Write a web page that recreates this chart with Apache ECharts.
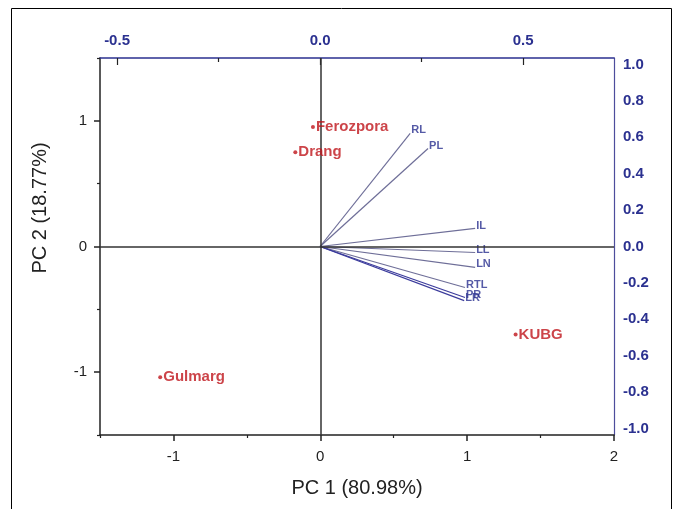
<!DOCTYPE html>
<html>
<head>
<meta charset="utf-8">
<script src="https://cdn.jsdelivr.net/npm/echarts@6/dist/echarts.min.js"></script>
<style>
  html, body { margin: 0; padding: 0; background: #fff; }
  #chart { width: 679px; height: 509px; }
</style>
</head>
<body>
<div id="chart"></div>
<script>
// scores (bottom / left axes)
var siteNames = ["Ferozpora", "Drang", "Gulmarg", "KUBG"];
var pc1Scores = [-0.05, -0.17, -1.09, 1.33];
var pc2Scores = [0.95, 0.75, -1.04, -0.70];

// loadings (top / right axes)
var traitNames = ["RL", "PL", "IL", "LL", "LN", "RTL", "PR", "LR"];
var loadX = [0.222, 0.266, 0.382, 0.382, 0.382, 0.357, 0.357, 0.355];
var loadY = [0.621, 0.538, 0.099, -0.033, -0.115, -0.225, -0.280, -0.297];

// tick labels
var pc1Ticks = [-1, 0, 1, 2];
var pc2Ticks = [-1, 0, 1];
var topTicks = [-0.5, 0, 0.5];
var rightTicks = [-1, -0.8, -0.6, -0.4, -0.2, 0, 0.2, 0.4, 0.6, 0.8, 1];

var navy = "#2b3190";
var red = "#bf151b";
var ink = "#222";
var font = "Liberation Sans";

var chart = echarts.init(document.getElementById("chart"));

function fix1(v) {
    return v.toFixed(1);
}

var vectorSeries = traitNames.map(function(name, i) {
    return {
        type: "line",
        xAxisIndex: 1,
        yAxisIndex: 1,
        data: [[0, 0], [loadX[i], loadY[i]]],
        symbol: "none",
        silent: true,
        z: 3,
        lineStyle: { color: i >= 6 ? "#3b3b9c" : "#6e6e98", width: 1.2 }
    };
});

var option = {
    animation: false,
    backgroundColor: "#fff",
    grid: { left: 100, right: 65, top: 58, bottom: 74 },
    xAxis: [
        {
            // PC1 scores
            type: "value", position: "bottom", min: -1.5, max: 2,
            name: "PC 1 (80.98%)", nameLocation: "middle", nameGap: 43,
            nameTextStyle: { fontFamily: font, fontSize: 20, color: ink },
            axisLine: { show: true, onZero: false, lineStyle: { color: ink, width: 1.5 } },
            axisTick: { show: true, customValues: pc1Ticks, length: 6, lineStyle: { color: ink, width: 1.5 } },
            axisLabel: { customValues: pc1Ticks, margin: 14, fontFamily: font, fontSize: 15, color: ink },
            splitLine: { show: false }
        },
        {
            // loadings, top
            type: "value", position: "top", min: -0.542, max: 0.724,
            axisLine: { show: true, onZero: false, lineStyle: { color: navy, width: 1.5 } },
            axisTick: { show: true, inside: true, customValues: topTicks, length: 7, lineStyle: { color: ink, width: 1.2 } },
            axisLabel: { customValues: topTicks, formatter: fix1, margin: 10, fontFamily: font, fontSize: 15, fontWeight: "bold", color: navy },
            splitLine: { show: false }
        },
        {
            // minor ticks bottom
            type: "value", position: "bottom", min: -1.5, max: 2,
            axisLine: { show: false, onZero: false },
            axisTick: { show: true, customValues: [-1.5, -0.5, 0.5, 1.5], length: 3, lineStyle: { color: ink, width: 1.2 } },
            axisLabel: { show: false },
            splitLine: { show: false }
        },
        {
            // minor ticks top
            type: "value", position: "top", min: -0.542, max: 0.724,
            axisLine: { show: false, onZero: false },
            axisTick: { show: true, inside: true, customValues: [-0.25, 0.25], length: 4, lineStyle: { color: ink, width: 1.2 } },
            axisLabel: { show: false },
            splitLine: { show: false }
        }
    ],
    yAxis: [
        {
            // PC2 scores
            type: "value", position: "left", min: -1.5, max: 1.5,
            axisLine: { show: true, onZero: false, lineStyle: { color: ink, width: 1.5 } },
            axisTick: { show: true, customValues: pc2Ticks, length: 6, lineStyle: { color: ink, width: 1.5 } },
            axisLabel: { customValues: pc2Ticks, margin: 13, fontFamily: font, fontSize: 15, color: ink },
            splitLine: { show: false }
        },
        {
            // loadings, right
            type: "value", position: "right", min: -1.035, max: 1.035,
            axisLine: { show: true, onZero: false, lineStyle: { color: "#4d4d9c", width: 1.2 } },
            axisTick: { show: false },
            axisLabel: { customValues: rightTicks, formatter: fix1, margin: 9, fontFamily: font, fontSize: 15, fontWeight: "bold", color: navy },
            splitLine: { show: false }
        },
        {
            // minor ticks left
            type: "value", position: "left", min: -1.5, max: 1.5,
            axisLine: { show: false, onZero: false },
            axisTick: { show: true, customValues: [-1.5, -0.5, 0.5, 1.5], length: 3, lineStyle: { color: ink, width: 1.2 } },
            axisLabel: { show: false },
            splitLine: { show: false }
        }
    ],
    graphic: [
        {
            type: "rect",
            shape: { x: 11.5, y: 8.5, width: 660, height: 530 },
            style: { fill: "none", stroke: "#000", lineWidth: 1 },
            silent: true
        },
        {
            type: "text",
            x: 40, y: 208, rotation: Math.PI / 2,
            style: {
                text: "PC 2 (18.77%)", fontFamily: font, fontSize: 20, fill: ink,
                textAlign: "center", textVerticalAlign: "middle"
            },
            silent: true
        }
    ],
    series: [
        {
            // zero cross lines
            type: "scatter",
            xAxisIndex: 0,
            yAxisIndex: 0,
            data: [],
            silent: true,
            markLine: {
                silent: true,
                symbol: "none",
                label: { show: false },
                lineStyle: { color: "#333", width: 1.5, type: "solid" },
                data: [{ xAxis: 0 }, { yAxis: 0 }]
            }
        }
    ].concat(vectorSeries).concat([
        {
            // vector labels
            type: "scatter",
            xAxisIndex: 1,
            yAxisIndex: 1,
            symbolSize: 0,
            silent: true,
            z: 4,
            data: traitNames.map(function(n, i) {
                return { name: n, value: [loadX[i], loadY[i]] };
            }),
            label: {
                show: true, position: "right", distance: 0, offset: [1, -3],
                formatter: "{b}", fontFamily: font, fontSize: 11, fontWeight: "bold", color: navy
            }
        },
        {
            // site scores
            type: "scatter",
            xAxisIndex: 0,
            yAxisIndex: 0,
            symbol: "circle",
            symbolSize: 4,
            z: 5,
            itemStyle: { color: red },
            data: siteNames.map(function(n, i) {
                return { name: n, value: [pc1Scores[i], pc2Scores[i]] };
            }),
            label: {
                show: true, position: "right", distance: 1,
                formatter: "{b}", fontFamily: font, fontSize: 15, fontWeight: "bold", color: red
            }
        }
    ])
};

chart.setOption(option);
</script>
</body>
</html>
